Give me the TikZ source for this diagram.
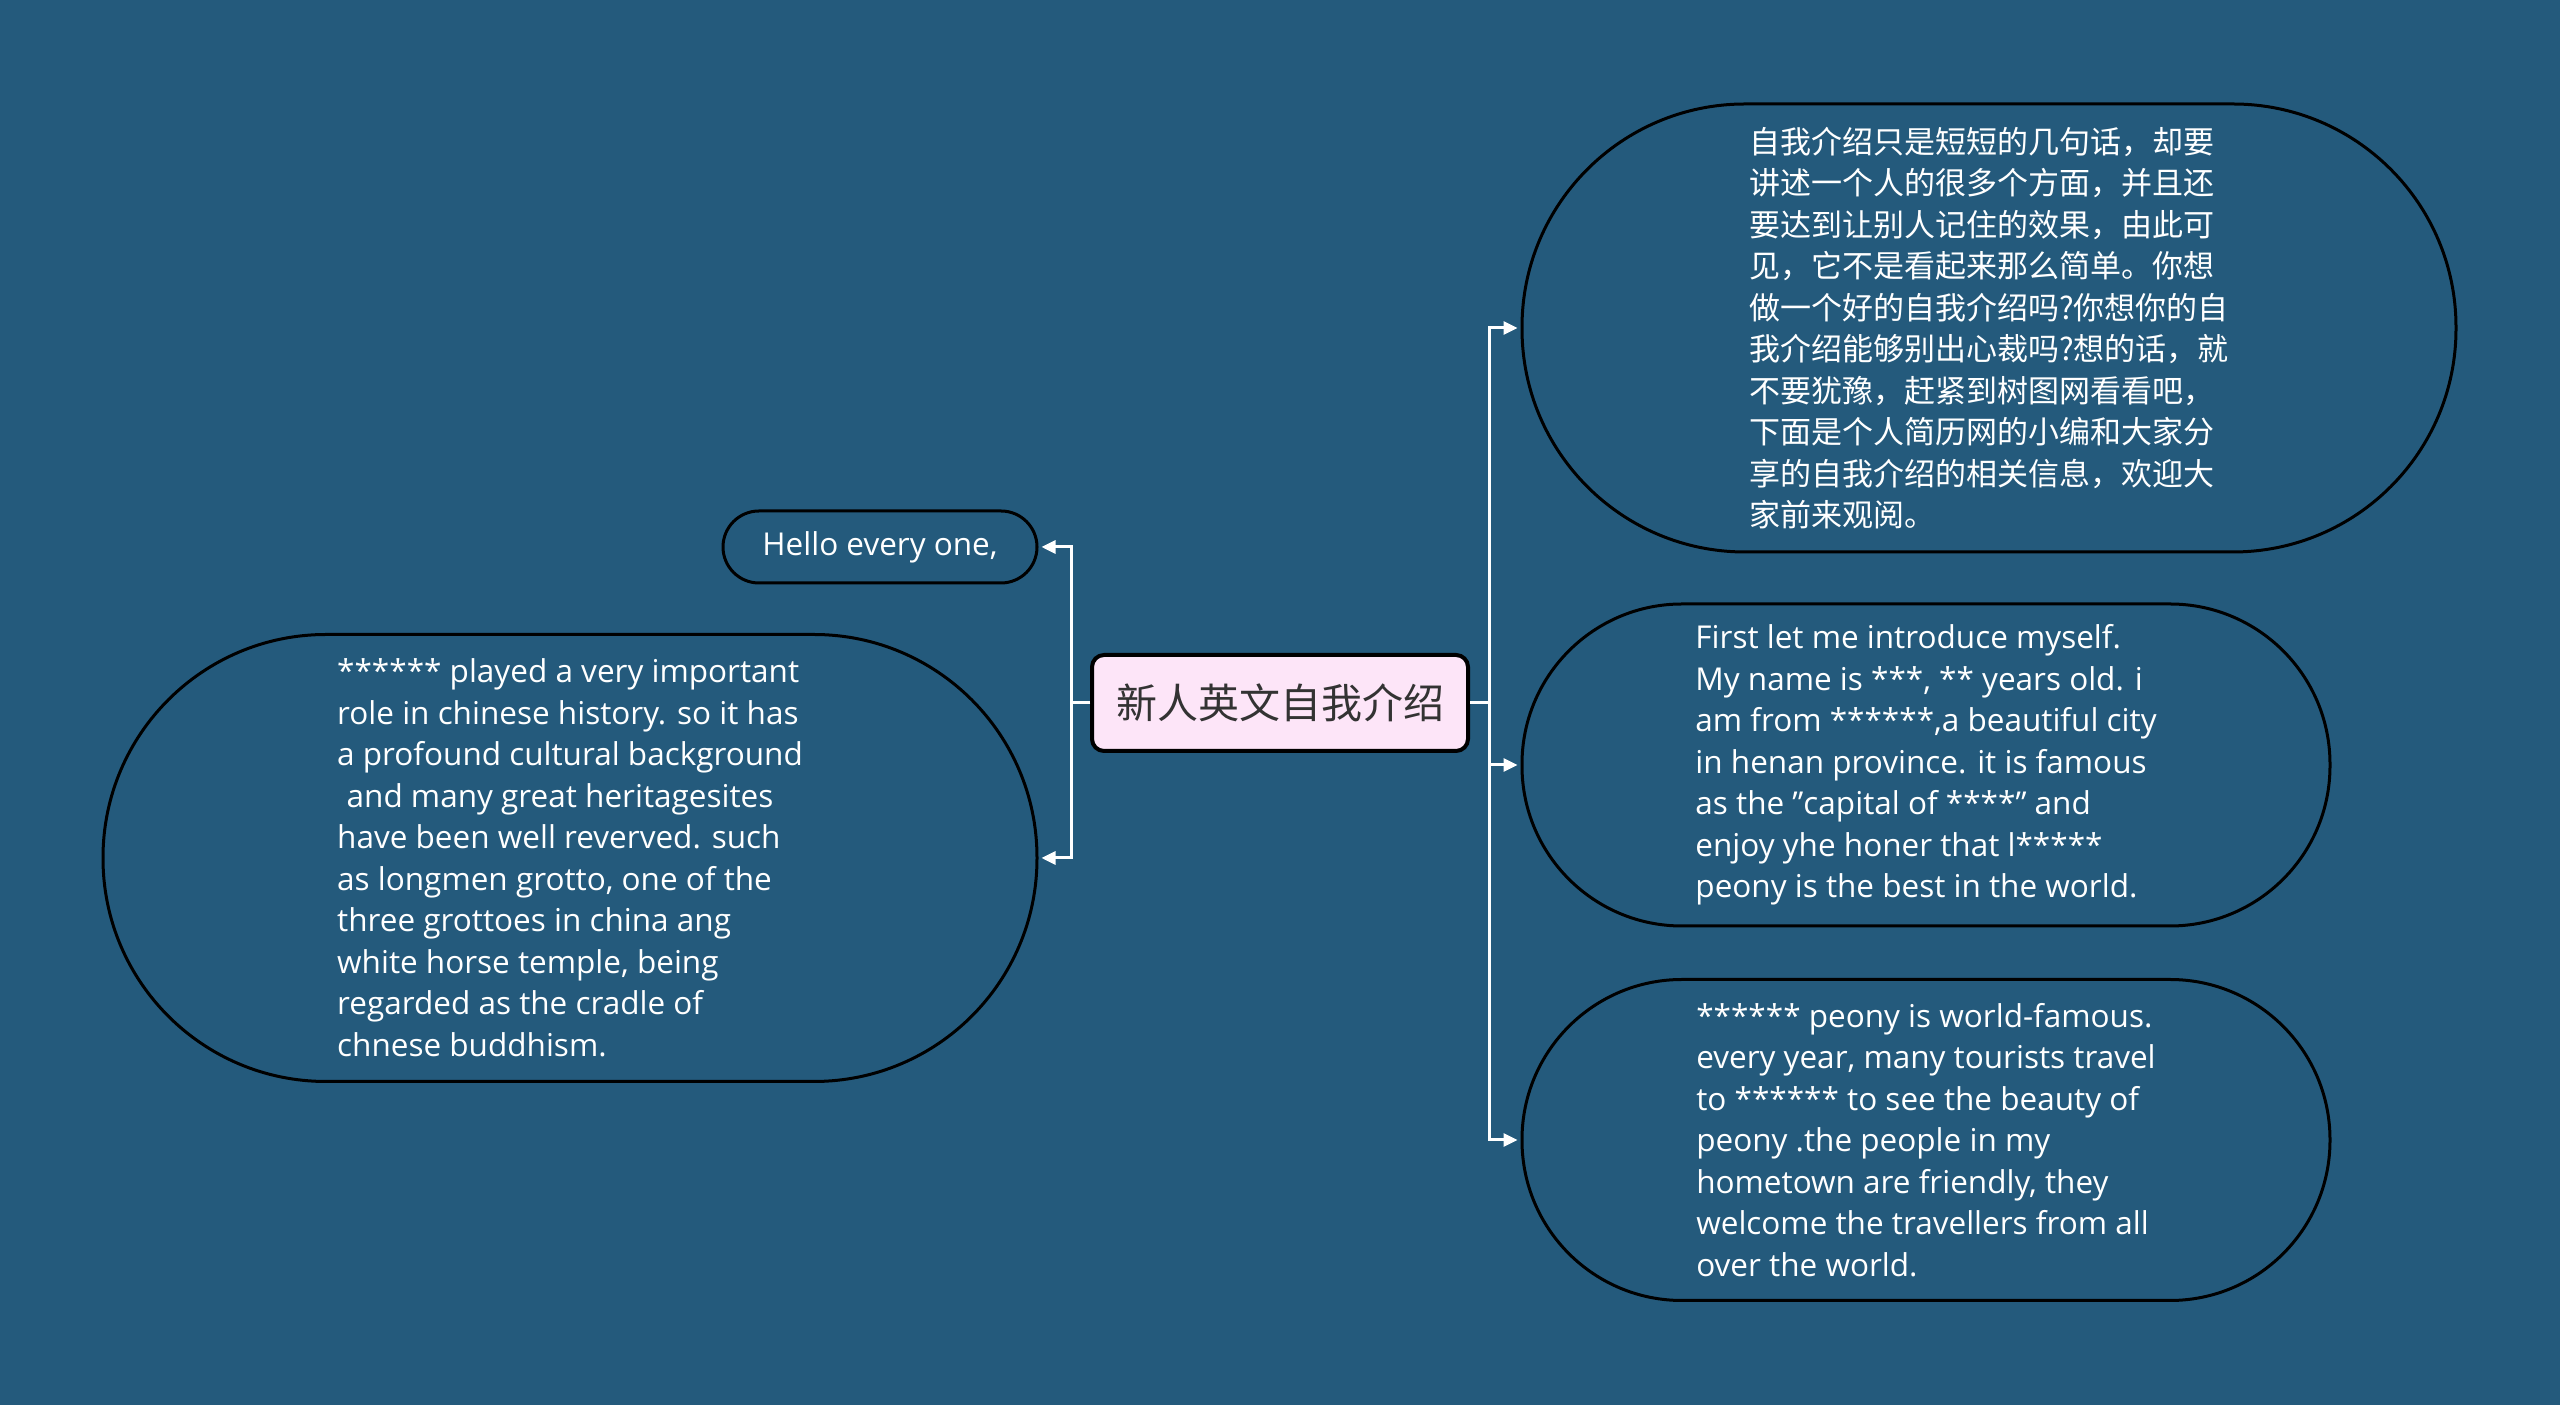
\documentclass[tikz,border=0pt]{standalone}
\usepackage{fontspec}
\setmainfont{Open Sans}
\newfontfamily\cjk{Noto Sans CJK SC}
\usetikzlibrary{arrows.meta}

\definecolor{bgblue}{HTML}{245A7C}
\definecolor{rootpink}{HTML}{FDE5F8}
\definecolor{rootink}{HTML}{333333}

\tikzset{
  bubble/.style={draw=black, line width=3pt, rounded corners=#1, text=white,
    align=left, inner sep=0pt, font=\fontsize{31.5}{41.5}\selectfont},
  root/.style={draw=black, line width=4pt, fill=rootpink, rounded corners=12pt,
    text=rootink, font=\cjk\fontsize{41}{48}\selectfont,
    minimum width=376pt, minimum height=96pt},
  link/.style={draw=white, line width=3pt, shorten >=3pt,
    -{Triangle[length=14pt,width=13pt]}},
}

\begin{document}
\begin{tikzpicture}[x=1pt, y=1pt]
    \fill[bgblue] (0,0) rectangle (2560,1405);

    % Root in the middle
    \node[root] (root) at (1280,702) {新人英文自我介绍};

    % Left side
    \node[bubble=36pt, minimum width=314pt, minimum height=72pt] (hello) at (880,858) {Hello every one,};
    \node[bubble=223pt, minimum width=934pt, minimum height=447pt] (history) at (570,547) {****** played a very important\\
      role in chinese history. so it has\\
      a profound cultural background\\
      \hspace{0.3em}and many great heritagesites\\
      have been well reverved. such\\
      as longmen grotto, one of the\\
      three grottoes in china ang\\
      white horse temple, being\\
      regarded as the cradle of\\
      chnese buddhism.};

    % Right side (top is the Chinese text)
    \node[bubble=223pt, minimum width=934pt, minimum height=448pt,
      font=\cjk\fontsize{31}{41.5}\selectfont] (about) at (1989,1077) {自我介绍只是短短的几句话，却要\\
      讲述一个人的很多个方面，并且还\\
      要达到让别人记住的效果，由此可\\
      见，它不是看起来那么简单。你想\\
      做一个好的自我介绍吗?你想你的自\\
      我介绍能够别出心裁吗?想的话，就\\
      不要犹豫，赶紧到树图网看看吧，\\
      下面是个人简历网的小编和大家分\\
      享的自我介绍的相关信息，欢迎大\\
      家前来观阅。};
    \node[bubble=160pt, minimum width=808pt, minimum height=322pt] (intro) at (1926,640) {First let me introduce myself.\\
      My name is ***, ** years old. i\\
      am from ******,a beautiful city\\
      in henan province. it is famous\\
      as the \symbol{34}capital of ****\symbol{34} and\\
      enjoy yhe honer that l*****\\
      peony is the best in the world.};
    \node[bubble=160pt, minimum width=808pt, minimum height=321pt] (peony) at (1926,265) {****** peony is world-famous.\\
      every year, many tourists travel\\
      to ****** to see the beauty of\\
      peony .the people in my\\
      hometown are friendly, they\\
      welcome the travellers from all\\
      over the world.};

    % Connectors
    \draw[link] (root.west) -- ++(-19,0) |- (hello.east);
    \draw[link] (root.west) -- ++(-19,0) |- (history.east);
    \draw[link] (root.east) -- ++(19,0) |- (about.west);
    \draw[link] (root.east) -- ++(19,0) |- (intro.west);
    \draw[link] (root.east) -- ++(19,0) |- (peony.west);
\end{tikzpicture}
\end{document}
